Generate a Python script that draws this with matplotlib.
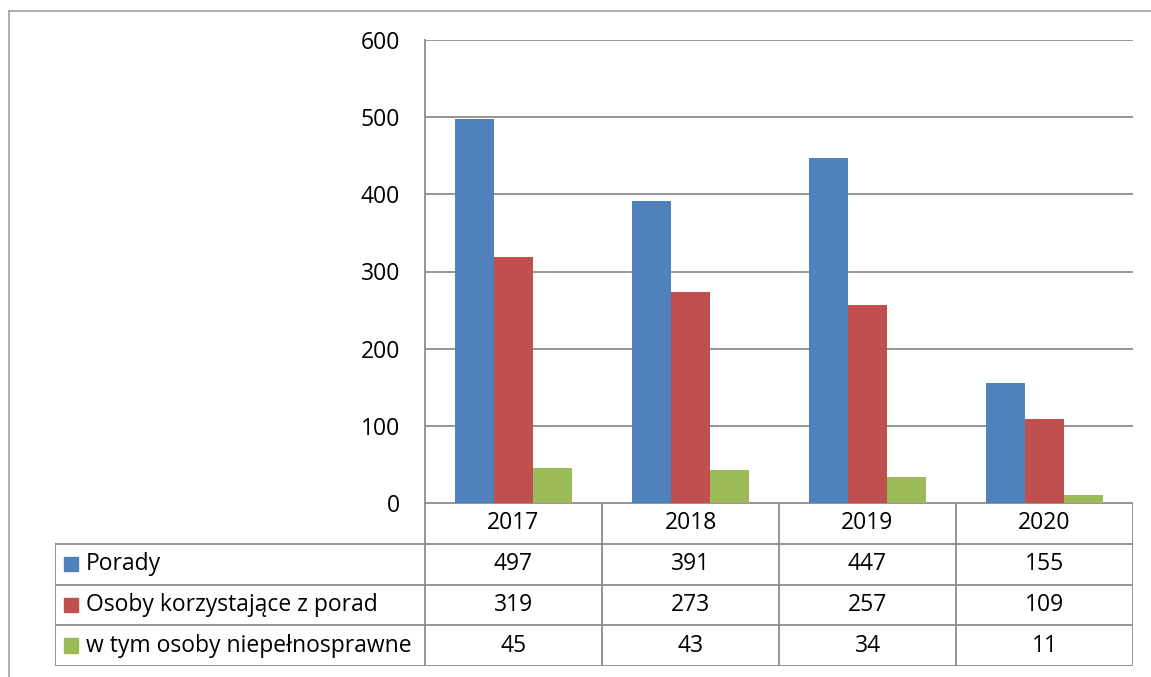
import matplotlib
matplotlib.use("Agg")
import matplotlib.pyplot as plt
from matplotlib.lines import Line2D
from matplotlib.patches import Rectangle

years = ["2017", "2018", "2019", "2020"]
series_names = ["Porady", "Osoby korzystające z porad", "w tym osoby niepełnosprawne"]
porady = [497, 391, 447, 155]
osoby = [319, 273, 257, 109]
niepelnosprawne = [45, 43, 34, 11]
series_values = [porady, osoby, niepelnosprawne]
colors = ["#4F81BD", "#C0504D", "#9BBB59"]
yticks = [0, 100, 200, 300, 400, 500, 600]

W, H = 1151, 677
plt.rcParams['font.family'] = ['Open Sans', 'DejaVu Sans']
fig = plt.figure(figsize=(W / 100, H / 100), dpi=100)
grid_c = "#8C8C8C"
fs = 16.5

def fx(px):
    return px / W

def fy(py):
    return 1 - py / H

# outer frame
fig.add_artist(Line2D([fx(9), fx(9)], [fy(11), 0], color="#A0A0A0", lw=1.2))
fig.add_artist(Line2D([fx(9), 1], [fy(11), fy(11)], color="#A0A0A0", lw=1.2))

L, R, T, B = 425, 1133, 40, 503
ax = fig.add_axes([fx(L), fy(B), fx(R) - fx(L), fy(T) - fy(B)])
n = len(years)
bw = 0.22
for i, (vals, c) in enumerate(zip(series_values, colors)):
    xs = [k + (i - 1) * bw for k in range(n)]
    ax.bar(xs, vals, width=bw, color=c, zorder=3)
ax.set_xlim(-0.5, n - 0.5)
ax.set_ylim(0, 600)
ax.set_yticks(yticks)
ax.set_yticklabels([str(v) for v in yticks], fontsize=fs)
ax.set_xticks([])
ax.tick_params(axis='y', length=0, pad=18)
ax.grid(axis='y', color=grid_c, lw=1.3, zorder=0)
for s in ["top", "right", "bottom"]:
    ax.spines[s].set_visible(False)
ax.spines["left"].set_color(grid_c)
ax.spines["left"].set_linewidth(1.3)

# data table
TL, TB = 55, 666
colw = (R - L) / n
lw_units = (L - TL) / colw
tax = fig.add_axes([fx(TL), fy(TB), fx(R) - fx(TL), fy(B) - fy(TB)])
tax.set_xlim(-0.5 - lw_units, n - 0.5)
tax.set_ylim(0, 4)
tax.axis("off")
lk = dict(color=grid_c, lw=1.3)
# horizontal lines
tax.plot([-0.5, n - 0.5], [4, 4], **lk)
for yy in [3, 2, 1, 0]:
    tax.plot([-0.5 - lw_units, n - 0.5], [yy, yy], **lk)
# vertical lines
tax.plot([-0.5 - lw_units, -0.5 - lw_units], [0, 3], **lk)
for k in range(n + 1):
    tax.plot([k - 0.5, k - 0.5], [0, 4], **lk)
# header
for k, yr in enumerate(years):
    tax.text(k, 3.5, yr, ha="center", va="center", fontsize=fs)
# rows
px_unit = colw
for r, (name, vals, c) in enumerate(zip(series_names, series_values, colors)):
    yc = 2.5 - r
    x0 = -0.5 - lw_units + 9 / px_unit
    tax.add_patch(Rectangle((x0, yc - 0.18), 14 / px_unit, 0.36, color=c, clip_on=False))
    tax.text(x0 + 22 / px_unit, yc, name, ha="left", va="center", fontsize=fs)
    for k, v in enumerate(vals):
        tax.text(k, yc, str(v), ha="center", va="center", fontsize=fs)

fig.savefig("out.png", dpi=100)
